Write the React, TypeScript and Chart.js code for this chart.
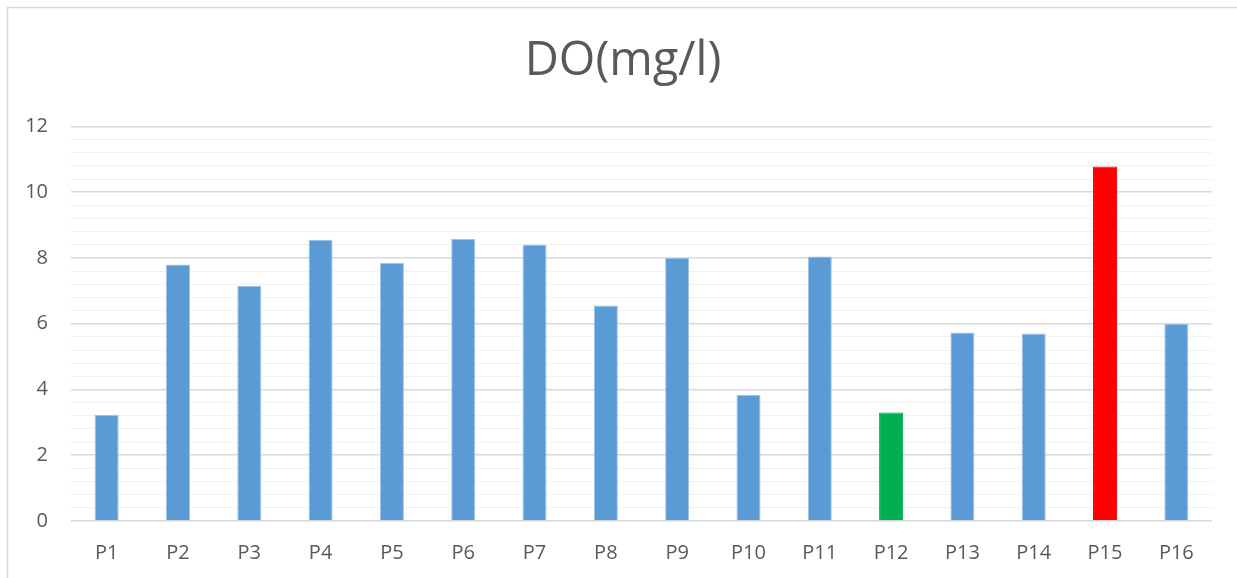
import React, { useEffect, useRef } from "react";
import { Chart, registerables } from "chart.js";

Chart.register(...registerables);

const categories = ["P1", "P2", "P3", "P4", "P5", "P6", "P7", "P8", "P9", "P10", "P11", "P12", "P13", "P14", "P15", "P16"];
const doValues = [3.23, 7.8, 7.15, 8.55, 7.85, 8.58, 8.41, 6.55, 8.0, 3.84, 8.04, 3.3, 5.73, 5.7, 10.78, 6.0];
const barColors = ["#5B9BD5", "#5B9BD5", "#5B9BD5", "#5B9BD5", "#5B9BD5", "#5B9BD5", "#5B9BD5", "#5B9BD5", "#5B9BD5", "#5B9BD5", "#5B9BD5", "#00B050", "#5B9BD5", "#5B9BD5", "#FF0000", "#5B9BD5"];
const yMin = 0;
const yMax = 12;
const minorStep = 0.4;
const majorStep = 2;
const titleText = "DO(mg/l)";

const FONT = "'Open Sans', 'Liberation Sans', sans-serif";
const TITLE_SIZE = 47;

const isMajor = (v: number) => Math.abs(v / majorStep - Math.round(v / majorStep)) < 1e-6;

const borderPlugin = {
  id: "outerBorder",
  beforeDraw(chart: any) {
    const ctx = chart.ctx;
    ctx.save();
    ctx.fillStyle = "#FFFFFF";
    ctx.fillRect(0, 0, chart.width, chart.height);
    ctx.strokeStyle = "#D9D9D9";
    ctx.lineWidth = 1.5;
    ctx.strokeRect(7.5, 7.5, chart.width + 20, chart.height + 20);
    ctx.restore();
  },
};

// Title drawn centred over the full (wider, cropped) chart frame
const titlePlugin = {
  id: "centredTitle",
  afterDraw(chart: any) {
    const tb = chart.titleBlock;
    if (!tb) return;
    const ctx = chart.ctx;
    ctx.save();
    ctx.fillStyle = "#595959";
    ctx.font = `normal ${TITLE_SIZE}px ${FONT}`;
    ctx.textAlign = "center";
    ctx.textBaseline = "middle";
    const pad = tb.options.padding;
    const y = tb.top + pad.top + (tb.height - pad.top - pad.bottom) / 2;
    ctx.fillText(titleText, 623, y);
    ctx.restore();
  },
};

export default function App() {
  const ref = useRef<HTMLCanvasElement | null>(null);

  useEffect(() => {
    document.body.style.margin = "0";
    if (!ref.current) return;
    const chart = new Chart(ref.current, {
      type: "bar",
      data: {
        labels: categories,
        datasets: [
          {
            label: titleText,
            data: doValues,
            backgroundColor: barColors,
            borderColor: barColors.map((c) => (c === "#5B9BD5" ? "#9EC3E8" : c)),
            borderWidth: 1,
            barPercentage: 0.337,
            categoryPercentage: 1,
          },
        ],
      },
      options: {
        animation: false,
        responsive: false,
        maintainAspectRatio: false,
        layout: { padding: { left: 0, right: 25, top: 0, bottom: 0 } },
        plugins: {
          legend: { display: false },
          tooltip: { enabled: false },
          title: {
            display: true,
            text: titleText,
            color: "rgba(0,0,0,0)",
            font: { family: FONT, size: TITLE_SIZE, weight: "normal" },
            padding: { top: 33, bottom: 37 },
          },
        },
        scales: {
          x: {
            grid: { display: false, drawTicks: false },
            border: { display: false },
            ticks: {
              color: "#595959",
              font: { family: FONT, size: 20 },
              padding: 20,
              maxRotation: 0,
              autoSkip: false,
            },
            afterFit: (scale: any) => {
              scale.height = 57;
            },
          },
          y: {
            min: yMin,
            max: yMax,
            border: { display: false },
            grid: {
              drawTicks: false,
              color: (ctx: any) => (isMajor(ctx.tick.value) ? "#D9D9D9" : "#F2F2F2"),
              lineWidth: (ctx: any) => (isMajor(ctx.tick.value) ? 1.5 : 1),
            },
            afterBuildTicks: (scale: any) => {
              const ticks: { value: number }[] = [];
              const n = Math.round((yMax - yMin) / minorStep);
              for (let i = 0; i <= n; i++) {
                ticks.push({ value: Math.round((yMin + i * minorStep) * 1000) / 1000 });
              }
              scale.ticks = ticks;
            },
            ticks: {
              autoSkip: false,
              color: "#595959",
              font: { family: FONT, size: 20 },
              padding: 23,
              callback: (v: any) => (isMajor(Number(v)) ? String(Math.round(Number(v))) : ""),
            },
            afterFit: (scale: any) => {
              scale.width = 71;
            },
          },
        },
      },
      plugins: [borderPlugin, titlePlugin],
    });
    return () => chart.destroy();
  }, []);

  return (
    <div style={{ position: "absolute", left: 0, top: 0, width: 1237, height: 578 }}>
      <canvas ref={ref} width={1237} height={578} style={{ display: "block" }} />
    </div>
  );
}
